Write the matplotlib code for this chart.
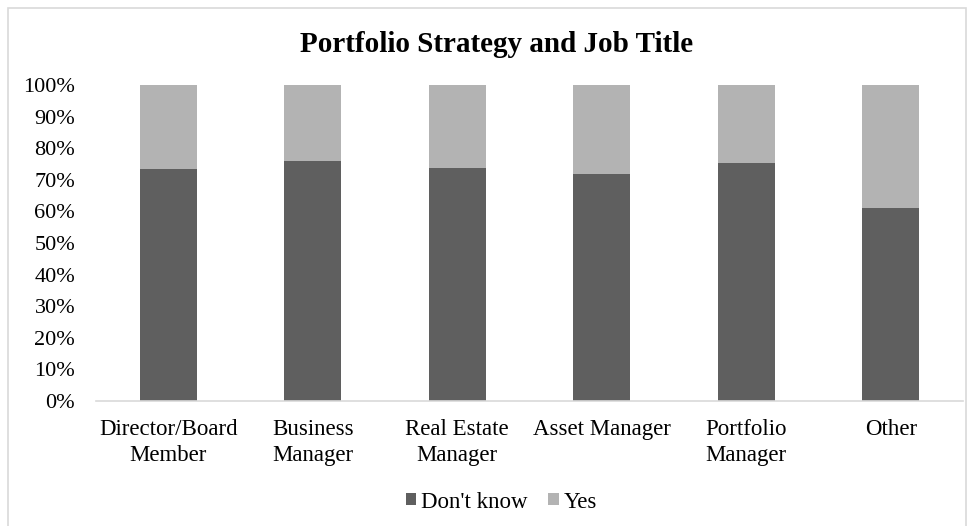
import matplotlib
matplotlib.use("Agg")
import matplotlib.pyplot as plt
from matplotlib.patches import Rectangle
from matplotlib.ticker import PercentFormatter

categories = ["Director/Board\nMember", "Business\nManager", "Real Estate\nManager",
              "Asset Manager", "Portfolio\nManager", "Other"]
dont_know = [73.3, 75.9, 73.6, 71.7, 75.2, 61.2]
yes = [100 - v for v in dont_know]
yticks = list(range(0, 101, 10))

plt.rcParams['font.family'] = ['Liberation Serif', 'DejaVu Serif']

fig = plt.figure(figsize=(9.74, 5.26), dpi=100)
fig.patches.append(Rectangle((7.5/974, -0.01), (966-7.5)/974, (526-8)/526 + 0.01,
                             transform=fig.transFigure, fill=False,
                             edgecolor='#d9d9d9', linewidth=1.2))
ax = fig.add_axes([96/974, (526-401)/526, (963-96)/974, 316/526])

x = list(range(len(categories)))
ax.bar(x, dont_know, width=0.397, color='#5f5f5f', label="Don't know")
ax.bar(x, yes, width=0.397, bottom=dont_know, color='#b3b3b3', label="Yes")

ax.set_xlim(-0.5, len(categories) - 0.5)
ax.set_ylim(0, 100)
ax.set_yticks(yticks)
ax.yaxis.set_major_formatter(PercentFormatter(decimals=0))
ax.set_xticks(x)
ax.set_xticklabels(categories, fontsize=16.5, linespacing=1.33)
ax.tick_params(axis='y', labelsize=16, length=0, pad=15)
ax.tick_params(axis='x', length=0, pad=13)
for s in ['top', 'right', 'left']:
    ax.spines[s].set_visible(False)
ax.spines['bottom'].set_color('#d9d9d9')
ax.spines['bottom'].set_linewidth(1.2)

fig.text(496.5/974, 1 - 44/526, "Portfolio Strategy and Job Title", ha='center', va='center',
         fontsize=21, fontweight='bold')

fig.legend(loc='center', bbox_to_anchor=(501.5/974, 1 - 502/526), ncol=2, frameon=False,
           fontsize=16.5, handlelength=0.45, handleheight=0.45, handletextpad=0.22,
           columnspacing=0.9)

fig.savefig("out.png", dpi=100)
